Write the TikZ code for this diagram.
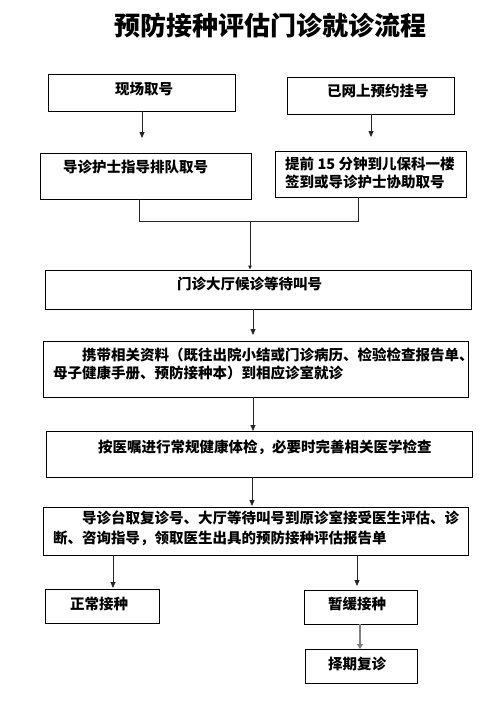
\documentclass[tikz,border=0pt]{standalone}
\usepackage{fontspec}
\newfontfamily\cjk{Noto Sans CJK SC}
\usetikzlibrary{fit,arrows.meta}
\tikzset{
  box/.style={draw=black,line width=0.9pt,inner sep=0pt},
  txt/.style={anchor=west,inner sep=0pt,font=\cjk\bfseries\fontsize{14.5}{18}\selectfont,text height=12.8pt,text depth=1.7pt},
  conn/.style={draw=black!85,line width=0.8pt},
  arr/.style={conn,-{Triangle[length=6pt,width=5pt]}},
  smallarr/.style={conn,-{Triangle[length=4pt,width=3.5pt]}}
}
\begin{document}
\begin{tikzpicture}[x=1pt,y=-1pt]
\useasboundingbox[fill=white] (0,0) rectangle (501,704);
\node[font=\cjk\bfseries\fontsize{26}{30}\selectfont,inner sep=0pt] (title) at (270,26) {预防接种评估门诊就诊流程};
% boxes
\node[box,fit={(48,74)(235,111)}] (b1) {};
\node[box,fit={(287,77)(454,114)}] (b2) {};
\node[box,fit={(40,153)(251,199)}] (b3) {};
\node[box,fit={(275,151)(466,197)}] (b4) {};
\node[box,fit={(45,270)(471,309)}] (b5) {};
\node[box,fit={(43,341)(468,397)}] (b6) {};
\node[box,fit={(46,431)(472,477)}] (b7) {};
\node[box,fit={(43,507)(468,555)}] (b8) {};
\node[box,fit={(45,589)(159,623)}] (b9) {};
\node[box,fit={(304,590)(417,624)}] (b10) {};
\node[box,fit={(305,649)(417,683)}] (b11) {};
% texts
\node[txt] (t1) at (115,89) {现场取号};
\node[txt] (t2) at (327,91) {已网上预约挂号};
\node[txt] (t3) at (63,167) {导诊护士指导排队取号};
\node[txt] (t4a) at (285,164) {提前 15 分钟到儿保科一楼};
\node[txt] (t4b) at (285,182) {签到或导诊护士协助取号};
\node[txt] (t5) at (177,284) {门诊大厅候诊等待叫号};
\node[txt] (t6a) at (82,355) {携带相关资料（既往出院小结或门诊病历、检验检查报告单、};
\node[txt] (t6b) at (53,373) {母子健康手册、预防接种本）到相应诊室就诊};
\node[txt] (t7) at (98,447) {按医嘱进行常规健康体检，必要时完善相关医学检查};
\node[txt] (t8a) at (82,518) {导诊台取复诊号、大厅等待叫号到原诊室接受医生评估、诊};
\node[txt] (t8b) at (53,538) {断、咨询指导，领取医生出具的预防接种评估报告单};
\node[txt] (t9) at (70,604) {正常接种};
\node[txt] (t10) at (328,604) {暂缓接种};
\node[txt] (t11) at (328,664) {择期复诊};
% connector points
\coordinate (e1) at (142,138);
\coordinate (e2) at (371,137);
\coordinate (j1) at (139,221);
\coordinate (j2) at (358,221);
\coordinate (j) at (250,221);
\coordinate (e5) at (253,335);
\coordinate (e6) at (253,431);
\coordinate (e7) at (252,506);
\coordinate (e8l) at (113,588);
\coordinate (e8r) at (357,586);
\coordinate (e10) at (360,649);
% connectors
\draw[arr] (b1.south -| e1) -- (e1);
\draw[arr] (b2.south -| e2) -- (e2);
\draw[conn] (b3.south -| j1) -- (j1) -- (j2) -- (b4.south -| j2);
\draw[smallarr] (j) -- (b5.north -| j);
\draw[arr] (b5.south -| e5) -- (e5);
\draw[arr] (b6.south -| e6) -- (e6);
\draw[arr] (b7.south -| e7) -- (e7);
\draw[arr] (b8.south -| e8l) -- (e8l);
\draw[arr] (b8.south -| e8r) -- (e8r);
\draw[draw=black!50,line width=1.8pt,-{Triangle[length=5pt,width=6pt]}] (b10.south -| e10) -- (e10);
\end{tikzpicture}
\end{document}
